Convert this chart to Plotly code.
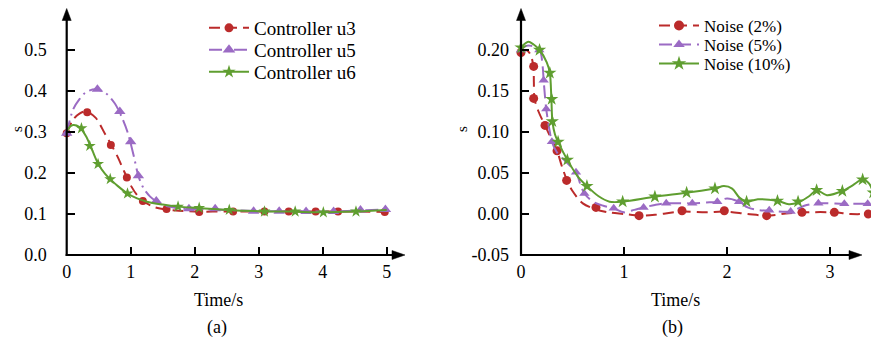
import plotly.graph_objects as go

# ---------------- data: panel (a) ----------------
t_u3_line = [0, 0.1, 0.2, 0.3, 0.45, 0.6, 0.7, 0.8, 0.9, 1.0, 1.1, 1.2, 1.35, 1.5, 1.75, 2.0, 2.5, 3.0, 3.5, 4.0, 4.5, 5.0]
s_u3_line = [0.297, 0.33, 0.345, 0.35, 0.335, 0.295, 0.268, 0.238, 0.203, 0.17, 0.146, 0.131, 0.118, 0.112, 0.108, 0.106, 0.106, 0.106, 0.106, 0.106, 0.106, 0.105]
t_u3_mark = [0, 0.32, 0.69, 0.94, 1.19, 1.56, 2.07, 2.60, 3.09, 3.47, 3.89, 4.24, 4.97]
s_u3_mark = [0.297, 0.348, 0.268, 0.189, 0.132, 0.112, 0.105, 0.106, 0.106, 0.106, 0.106, 0.106, 0.105]

t_u5_line = [0, 0.1, 0.2, 0.3, 0.45, 0.6, 0.75, 0.85, 0.95, 1.05, 1.12, 1.2, 1.3, 1.4, 1.55, 1.75, 2.0, 2.5, 3.0, 3.5, 4.0, 4.5, 5.0]
s_u5_line = [0.297, 0.355, 0.38, 0.397, 0.404, 0.396, 0.37, 0.34, 0.30, 0.24, 0.193, 0.163, 0.143, 0.131, 0.12, 0.114, 0.112, 0.11, 0.107, 0.107, 0.106, 0.108, 0.111]
t_u5_mark = [0, 0.48, 0.83, 1.0, 1.12, 1.40, 1.91, 2.32, 2.92, 3.32, 3.74, 4.17, 4.59, 4.98]
s_u5_mark = [0.297, 0.404, 0.35, 0.276, 0.193, 0.132, 0.113, 0.113, 0.107, 0.107, 0.106, 0.106, 0.110, 0.111]

t_u6_line = [0, 0.05, 0.1, 0.2, 0.3, 0.4, 0.5, 0.6, 0.7, 0.8, 0.95, 1.1, 1.25, 1.5, 1.75, 2.0, 2.5, 3.0, 3.5, 4.0, 4.5, 5.0]
s_u6_line = [0.30, 0.313, 0.317, 0.312, 0.29, 0.255, 0.22, 0.198, 0.182, 0.168, 0.15, 0.138, 0.13, 0.123, 0.118, 0.115, 0.11, 0.107, 0.106, 0.104, 0.106, 0.11]
t_u6_mark = [0.23, 0.36, 0.49, 0.68, 0.95, 1.74, 2.07, 2.54, 3.09, 3.57, 4.01, 4.52]
s_u6_mark = [0.309, 0.266, 0.222, 0.185, 0.15, 0.118, 0.115, 0.11, 0.106, 0.106, 0.104, 0.106]

# ---------------- data: panel (b) ----------------
t_n2_line = [0, 0.05, 0.09, 0.12, 0.125, 0.13, 0.17, 0.233, 0.3, 0.35, 0.4, 0.45, 0.5, 0.6, 0.72, 0.85, 1.0, 1.15, 1.3, 1.56, 1.8, 1.97, 2.2, 2.39, 2.6, 2.73, 3.04, 3.2, 3.37]
s_n2_line = [0.197, 0.2, 0.195, 0.18, 0.16, 0.141, 0.125, 0.108, 0.09, 0.077, 0.057, 0.04, 0.028, 0.013, 0.006, 0.002, 0.0, -0.002, -0.001, 0.003, 0.002, 0.003, 0.0, -0.002, 0.001, 0.002, 0.002, 0.0, 0.0]
t_n2_mark = [0, 0.123, 0.123, 0.233, 0.35, 0.443, 0.728, 1.146, 1.563, 1.974, 2.385, 2.728, 3.042, 3.372]
s_n2_mark = [0.197, 0.180, 0.141, 0.108, 0.077, 0.041, 0.008, -0.002, 0.004, 0.004, -0.002, 0.002, 0.002, 0.0]

t_n5_line = [0, 0.05, 0.1, 0.18, 0.21, 0.22, 0.245, 0.28, 0.30, 0.35, 0.45, 0.534, 0.58, 0.615, 0.7, 0.8, 0.9, 1.0, 1.1, 1.19, 1.3, 1.41, 1.663, 1.8, 1.906, 2.0, 2.117, 2.2, 2.3, 2.41, 2.618, 2.75, 2.887, 3.139, 3.366]
s_n5_line = [0.2, 0.205, 0.205, 0.2, 0.18, 0.163, 0.128, 0.1, 0.088, 0.075, 0.062, 0.051, 0.035, 0.025, 0.015, 0.01, 0.007, 0.002, 0.005, 0.008, 0.011, 0.013, 0.013, 0.014, 0.015, 0.019, 0.015, 0.008, 0.005, 0.004, 0.003, 0.01, 0.013, 0.0125, 0.0125]
t_n5_mark = [0, 0.178, 0.22, 0.245, 0.30, 0.534, 0.615, 0.9, 1.19, 1.41, 1.663, 1.906, 2.117, 2.41, 2.618, 2.887, 3.139, 3.366]
s_n5_mark = [0.2, 0.2, 0.163, 0.128, 0.088, 0.051, 0.025, 0.007, 0.008, 0.013, 0.013, 0.015, 0.015, 0.0045, 0.003, 0.013, 0.0125, 0.0125]

t_n10_line = [0, 0.07, 0.12, 0.18, 0.25, 0.28, 0.295, 0.305, 0.33, 0.36, 0.45, 0.55, 0.64, 0.75, 0.86, 0.987, 1.3, 1.608, 1.883, 1.97, 2.05, 2.12, 2.19, 2.3, 2.49, 2.6, 2.69, 2.8, 2.87, 2.97, 3.12, 3.22, 3.317, 3.38, 3.42]
s_n10_line = [0.203, 0.21, 0.207, 0.2, 0.185, 0.172, 0.14, 0.113, 0.097, 0.088, 0.066, 0.046, 0.034, 0.022, 0.015, 0.015, 0.021, 0.026, 0.031, 0.034, 0.031, 0.02, 0.015, 0.018, 0.016, 0.012, 0.014, 0.022, 0.029, 0.023, 0.028, 0.035, 0.042, 0.037, 0.026]
t_n10_mark = [0, 0.18, 0.28, 0.298, 0.304, 0.36, 0.45, 0.64, 0.987, 1.30, 1.608, 1.883, 2.19, 2.49, 2.69, 2.87, 3.12, 3.317, 3.42]
s_n10_mark = [0.203, 0.2, 0.172, 0.14, 0.113, 0.088, 0.066, 0.034, 0.015, 0.021, 0.026, 0.031, 0.015, 0.016, 0.015, 0.029, 0.028, 0.042, 0.026]

a_xticks = [0, 1, 2, 3, 4, 5]
a_yticks = [0.0, 0.1, 0.2, 0.3, 0.4, 0.5]
a_yticklabels = ["0.0", "0.1", "0.2", "0.3", "0.4", "0.5"]
b_xticks = [0, 1, 2, 3]
b_yticks = [-0.05, 0.0, 0.05, 0.10, 0.15, 0.20]
b_yticklabels = ["-0.05", "0.00", "0.05", "0.10", "0.15", "0.20"]

names_a = ["Controller u3", "Controller u5", "Controller u6"]
names_b = ["Noise (2%)", "Noise (5%)", "Noise (10%)"]

# ---------------- styling ----------------
OFF = 8                      # page body margin of the html page
W, H = 879 - OFF, 338 - OFF  # figure size
RED, PURPLE, GREEN = "#BB2B2B", "#9B6BC4", "#5F9E30"
FONT = "'Liberation Serif', 'Times New Roman', serif"

def PX(x):
    # window pixel x -> paper coordinate
    return (x - OFF) / W

def PY(y):
    return 1 - (y - OFF) / H

styles = [
    dict(color=RED, dash="11px,6px", symbol="circle", size=8),
    dict(color=PURPLE, dash="13px,5px,2px,5px", symbol="triangle-up", size=10),
    dict(color=GREEN, dash="solid", symbol="star", size=9),
]
styles_b = [
    dict(color=RED, dash="11px,6px", symbol="circle", size=9),
    dict(color=PURPLE, dash="13px,6px", symbol="triangle-up", size=9),
    dict(color=GREEN, dash="solid", symbol="star", size=10),
]

fig = go.Figure()

def add_series(tl, sl, tm, sm, st, xa, ya, name, legend):
    fig.add_trace(go.Scatter(x=tl, y=sl, mode="lines", xaxis=xa, yaxis=ya,
                             line=dict(color=st["color"], width=2, dash=st["dash"], shape="spline", smoothing=0.9),
                             showlegend=False, hoverinfo="skip"))
    fig.add_trace(go.Scatter(x=tm, y=sm, mode="markers", xaxis=xa, yaxis=ya,
                             marker=dict(color=st["color"], symbol=st["symbol"], size=st["size"], line=dict(width=0)),
                             showlegend=False, cliponaxis=False))
    fig.add_trace(go.Scatter(x=[None], y=[None], mode="lines+markers", xaxis=xa, yaxis=ya, name=name,
                             legend=legend,
                             line=dict(color=st["color"], width=2, dash=st["dash"]),
                             marker=dict(color=st["color"], symbol=st["symbol"], size=st["size"] + 1, line=dict(width=0))))

a_series = [(t_u3_line, s_u3_line, t_u3_mark, s_u3_mark),
            (t_u5_line, s_u5_line, t_u5_mark, s_u5_mark),
            (t_u6_line, s_u6_line, t_u6_mark, s_u6_mark)]
b_series = [(t_n2_line, s_n2_line, t_n2_mark, s_n2_mark),
            (t_n5_line, s_n5_line, t_n5_mark, s_n5_mark),
            (t_n10_line, s_n10_line, t_n10_mark, s_n10_mark)]

legend_ids = ["legend", "legend2", "legend3", "legend4", "legend5", "legend6"]
for i, (tl, sl, tm, sm) in enumerate(a_series):
    add_series(tl, sl, tm, sm, styles[i], "x", "y", names_a[i], legend_ids[i])
for i, (tl, sl, tm, sm) in enumerate(b_series):
    add_series(tl, sl, tm, sm, styles_b[i], "x2", "y2", names_b[i], legend_ids[3 + i])

# legends: one per entry for exact row placement
leg_rows_a = [28, 50, 72]
leg_rows_b = [26, 45, 64]
legend_layout = {}
for i in range(3):
    legend_layout[legend_ids[i]] = dict(x=PX(204), y=PY(leg_rows_a[i]), xanchor="left", yanchor="middle",
                                        bgcolor="rgba(0,0,0,0)", font=dict(family=FONT, size=19, color="black"),
                                        itemwidth=40)
    legend_layout[legend_ids[3 + i]] = dict(x=PX(654), y=PY(leg_rows_b[i]), xanchor="left", yanchor="middle",
                                            bgcolor="rgba(0,0,0,0)", font=dict(family=FONT, size=17, color="black"),
                                            itemwidth=40)

# axis geometry (window pixels)
a_x0, a_pxu = 66.7, 64.0      # x=0 pixel, px per unit
b_x0, b_pxu = 521.0, 103.0
y_base, y_top = 255.0, 8.0    # plot area bottom / top (top limited by page margin)
a_ppu = 410.0                 # px per 1.0 of s (panel a)
b_ppu = 820.0                 # px per 1.0 of s (panel b)

a_xmax = 5.3
b_xmax = 3.45
a_ymax = (y_base - y_top) / a_ppu
b_ymin = -0.05
b_ymax = b_ymin + (y_base - y_top) / b_ppu

tickfont = dict(family=FONT, size=18, color="black")
common_x = dict(showgrid=False, zeroline=False, showline=False, ticks="inside", ticklen=8, tickwidth=2,
                tickcolor="black", tickfont=tickfont, ticklabelstandoff=4, fixedrange=True, automargin=False)
common_y = dict(showgrid=False, zeroline=False, showline=False, ticks="inside", ticklen=8, tickwidth=2,
                tickcolor="black", tickfont=tickfont, fixedrange=True, automargin=False)

fig.update_layout(
    template="none",
    width=W, height=H, margin=dict(l=0, r=0, t=0, b=0, pad=0, autoexpand=False),
    paper_bgcolor="white", plot_bgcolor="rgba(0,0,0,0)",
    font=dict(family=FONT, color="black"),
    xaxis=dict(domain=[PX(a_x0), PX(a_x0 + a_xmax * a_pxu)], range=[0, a_xmax], tickvals=a_xticks, anchor="y", **common_x),
    yaxis=dict(domain=[PY(y_base), PY(y_top)], range=[0, a_ymax], tickvals=a_yticks, ticktext=a_yticklabels,
               anchor="x", ticklabelstandoff=19, **common_y),
    xaxis2=dict(domain=[PX(b_x0), min(1.0, PX(b_x0 + b_xmax * b_pxu))], range=[0, b_xmax], tickvals=b_xticks, anchor="y2", **common_x),
    yaxis2=dict(domain=[PY(y_base), PY(y_top)], range=[b_ymin, b_ymax], tickvals=b_yticks, ticktext=b_yticklabels,
                anchor="x2", ticklabelstandoff=11, **common_y),
    **legend_layout,
)

# axis lines with arrow heads
shapes = []
def axis_with_arrows(x0, x_end):
    tip = y_top + 0.5
    shapes.append(dict(type="line", xref="paper", yref="paper", x0=PX(x0), x1=PX(x0), y0=PY(y_base + 1), y1=PY(tip + 10),
                       line=dict(color="black", width=2.2)))
    shapes.append(dict(type="path", xref="paper", yref="paper",
                       path=f"M {PX(x0 - 4.5)} {PY(tip + 12)} L {PX(x0)} {PY(tip)} L {PX(x0 + 4.5)} {PY(tip + 12)} Z",
                       fillcolor="black", line=dict(color="black", width=0.5)))
    shapes.append(dict(type="line", xref="paper", yref="paper", x0=PX(x0 - 1), x1=PX(x_end - 8), y0=PY(y_base), y1=PY(y_base),
                       line=dict(color="black", width=2.2)))
    shapes.append(dict(type="path", xref="paper", yref="paper",
                       path=f"M {PX(x_end - 13)} {PY(y_base - 4.5)} L {PX(x_end)} {PY(y_base)} L {PX(x_end - 13)} {PY(y_base + 4.5)} Z",
                       fillcolor="black", line=dict(color="black", width=0.5)))

axis_with_arrows(a_x0, 405)
axis_with_arrows(b_x0, 862)
fig.update_layout(shapes=shapes)

ann = []
def txt(x, y, s, size=18, angle=0):
    ann.append(dict(x=PX(x), y=PY(y), xref="paper", yref="paper", text=s,
                    showarrow=False, textangle=angle, xanchor="center", yanchor="middle",
                    font=dict(family=FONT, size=size, color="black")))

txt(218, 300, "Time/s", 18)
txt(217, 327, "(a)", 18)
txt(675, 300, "Time/s", 18)
txt(672, 327, "(b)", 18)
txt(17, 129, "s", 15, angle=-90)
txt(462, 129, "s", 15, angle=-90)
fig.update_layout(annotations=ann)

fig.write_html("out.html")
